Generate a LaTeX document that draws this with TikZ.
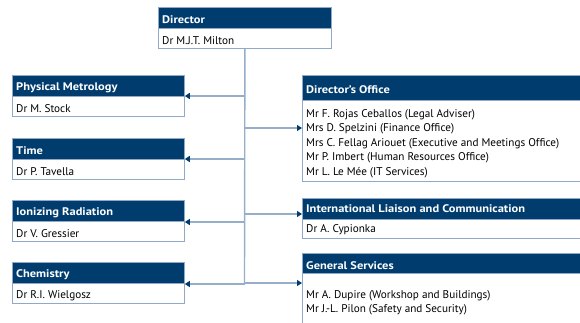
\documentclass[tikz,border=0pt]{standalone}
\usepackage{fontspec}
\setmainfont{PT Sans}
\newfontfamily\hdfont[FakeStretch=1.13]{PT Sans}
\usetikzlibrary{arrows.meta,positioning}
\definecolor{navy}{RGB}{0,61,110}
\definecolor{frame}{RGB}{143,169,198}
\definecolor{wire}{RGB}{150,174,200}
\tikzset{
  hbox/.style={draw=frame, line width=0.8pt, fill=navy, anchor=north west, inner sep=0pt},
  bbox/.style={draw=frame, line width=0.8pt, fill=white, anchor=north west, inner sep=0pt},
  txt/.style={anchor=west, inner sep=0pt, text=black, yshift=-2.5pt, font=\fontsize{11.2}{14.5}\selectfont},
  htxt/.style={anchor=west, inner sep=0pt, text=white, yshift=-2pt, font=\hdfont\fontsize{11}{13}\selectfont\bfseries},
  conn/.style={draw=wire, line width=1.4pt},
  arr/.style={conn, -{Triangle[length=5pt,width=6pt,color=navy]}},
}
\begin{document}
\begin{tikzpicture}[x=1pt,y=-1pt]
\useasboundingbox (0,0) rectangle (580,322);
\clip (0,0) rectangle (580,322);
% Director
\node[hbox,minimum width=173pt,minimum height=21pt] (dirh) at (158,7) {};
\node[bbox,minimum width=173pt,minimum height=20pt] (dirb) at (158,28) {};
\node[htxt] (dirht) at (162,17.5) {Director};
\node[txt] (dirt) at (162,38) {Dr M.J.T. Milton};
% left boxes
\foreach \nm/\yt/\hd/\bd in {pm/75/Physical Metrology/Dr M. Stock, ti/138/Time/Dr P. Tavella, ir/200/Ionizing Radiation/Dr V. Gressier, ch/262/Chemistry/Dr R.I. Wielgosz}{
  \node[hbox,minimum width=172pt,minimum height=21pt] (\nm h) at (12,\yt) {};
  \node[bbox,minimum width=172pt,minimum height=20pt] (\nm b) at (12,\yt+21) {};
  \node[htxt] (\nm ht) at (16,\yt+11) {\hd};
  \node[txt] (\nm bt) at (16,\yt+31) {\bd};
}
% right boxes
\node[hbox,minimum width=290pt,minimum height=25pt] (doh) at (302,75) {};
\node[bbox,minimum width=290pt,minimum height=81pt] (dob) at (302,100) {};
\node[htxt] (doht) at (306,88) {Director’s Office};
\node[txt] (d1) at (306,112) {Mr F. Rojas Ceballos (Legal Adviser)};
\node[txt] (d2) at (306,126.5) {Mrs D. Spelzini (Finance Office)};
\node[txt] (d3) at (306,141) {Mrs C. Fellag Ariouet (Executive and Meetings Office)};
\node[txt] (d4) at (306,155.5) {Mr P. Imbert (Human Resources Office)};
\node[txt] (d5) at (306,170) {Mr L. Le Mée (IT Services)};

\node[hbox,minimum width=290pt,minimum height=21pt] (ilh) at (302,198) {};
\node[bbox,minimum width=290pt,minimum height=19pt] (ilb) at (302,219) {};
\node[htxt] (ilht) at (306,207) {International Liaison and Communication};
\node[txt] (ilbt) at (306,227) {Dr A. Cypionka};

\node[hbox,minimum width=290pt,minimum height=20pt] (gsh) at (302,253) {};
\node[bbox,minimum width=290pt,minimum height=60pt] (gsb) at (302,273) {};
\node[htxt] (gsht) at (306,263.5) {General Services};
\node[txt] (g1) at (306,293) {Mr A. Dupire (Workshop and Buildings)};
\node[txt] (g2) at (306,307.5) {Mr J.-L. Pilon (Safety and Security)};

% spine
\coordinate (sp) at (dirb.south);
\coordinate (se) at (244.5,284);
\draw[conn] (sp) -- (se);
\foreach \y/\tgt in {96/pmb, 159/tib, 222/irb, 284/chb}{
  \coordinate (L\tgt) at (244.5,\y);
  \draw[arr] (L\tgt) -- (L\tgt -| \tgt.east);
}
\foreach \y/\tgt in {128/dob, 214/ilh, 283/gsb}{
  \coordinate (R\tgt) at (244.5,\y);
  \draw[arr] (R\tgt) -- (R\tgt -| \tgt.west);
}
\end{tikzpicture}
\end{document}
